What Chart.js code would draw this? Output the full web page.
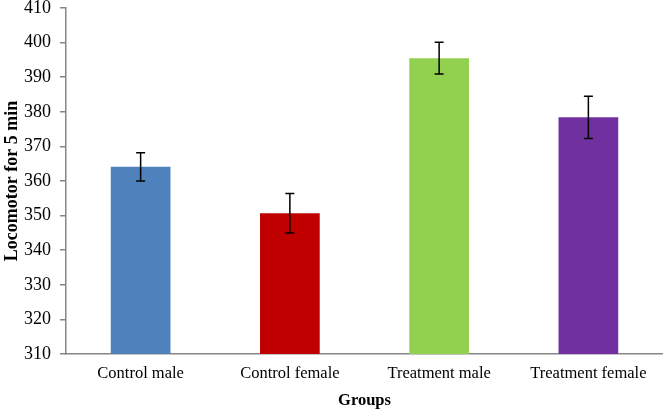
<!DOCTYPE html>
<html>
<head>
<meta charset="utf-8">
<script src="https://cdn.jsdelivr.net/npm/chart.js@4"></script>
<style>
  html, body { margin: 0; padding: 0; background: #fff; }
  #wrap { width: 663px; height: 413px; }
</style>
</head>
<body>
<div id="wrap"><canvas id="myChart"></canvas></div>
<script>
const groups = ['Control male', 'Control female', 'Treatment male', 'Treatment female'];
const means = [364.1, 350.7, 395.5, 378.4];
const errors = [4.1, 5.7, 4.6, 6.1];
const barColors = ['#4F81BD', '#C00000', '#92D050', '#7030A0'];

// draws the error bars from the y scale
const errorBars = {
    id: 'errorBars',
    afterDatasetsDraw(chart) {
        const ctx = chart.ctx;
        const y = chart.scales.y;
        const meta = chart.getDatasetMeta(0);
        ctx.save();
        ctx.strokeStyle = '#000';
        ctx.lineWidth = 1.5;
        meta.data.forEach((bar, i) => {
            const x = bar.x;
            const top = y.getPixelForValue(means[i] + errors[i]);
            const bottom = y.getPixelForValue(means[i] - errors[i]);
            ctx.beginPath();
            ctx.moveTo(x, top);
            ctx.lineTo(x, bottom);
            ctx.moveTo(x - 4.5, top);
            ctx.lineTo(x + 4.5, top);
            ctx.moveTo(x - 4.5, bottom);
            ctx.lineTo(x + 4.5, bottom);
            ctx.stroke();
        });
        ctx.restore();
    }
};

const ctx = document.getElementById('myChart').getContext('2d');
const myChart = new Chart(ctx, {
    type: 'bar',
    data: {
        labels: groups,
        datasets: [{
            data: means,
            backgroundColor: barColors,
            borderWidth: 0,
            barPercentage: 0.4,
            categoryPercentage: 1
        }]
    },
    options: {
        responsive: true,
        maintainAspectRatio: false,
        animation: false,
        layout: { padding: 0 },
        plugins: {
            legend: { display: false },
            tooltip: { enabled: false }
        },
        scales: {
            x: {
                grid: { display: false, drawTicks: false },
                border: { color: '#868686', width: 1.5 },
                afterFit: (scale) => { scale.height = 59; },
                ticks: {
                    color: '#000',
                    padding: 10,
                    font: { family: 'Liberation Serif', size: 16.5 }
                },
                title: {
                    display: true,
                    text: 'Groups',
                    color: '#000',
                    padding: { top: 6, bottom: 2 },
                    font: { family: 'Liberation Serif', size: 16.5, weight: 'bold' }
                }
            },
            y: {
                min: 310,
                max: 410,
                afterFit: (scale) => {
                    scale.width = 66;
                    scale.paddingTop = 8;
                    scale.paddingBottom = 8;
                },
                grid: { display: true, drawOnChartArea: false, drawTicks: true, tickLength: 6, color: '#868686', lineWidth: 1.5 },
                border: { color: '#868686', width: 1.5 },
                ticks: {
                    stepSize: 10,
                    color: '#000',
                    padding: 9,
                    font: { family: 'Liberation Serif', size: 18 }
                },
                title: {
                    display: true,
                    text: 'Locomotor for 5 min',
                    color: '#000',
                    padding: { top: 2, bottom: 0 },
                    font: { family: 'Liberation Serif', size: 18, weight: 'bold' }
                }
            }
        }
    },
    plugins: [errorBars]
});
</script>
</body>
</html>
